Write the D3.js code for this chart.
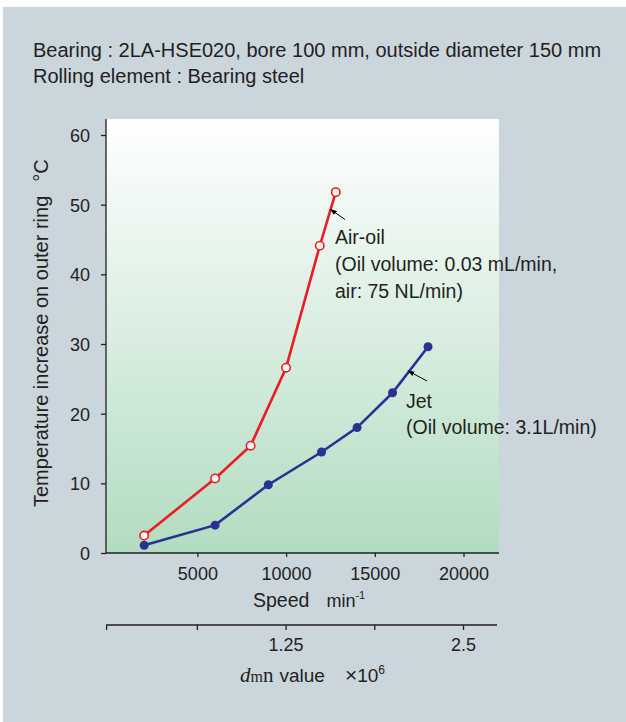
<!DOCTYPE html>
<html><head><meta charset="utf-8">
<script src="https://cdn.jsdelivr.net/npm/d3@7"></script>
<style>
html,body{margin:0;padding:0;background:#fff;}
svg{display:block;}
svg text{font-family:"Liberation Sans",Arial,sans-serif;}
</style></head>
<body>
<script>
// ---- data ----
const airOilSpeed = [2000, 6000, 8000, 10000, 11900, 12800];
const airOilTemp  = [2.5, 10.7, 15.4, 26.6, 44.1, 51.8];
const jetSpeed = [2000, 6000, 9000, 12000, 14000, 16000, 18000];
const jetTemp  = [1.1, 4.0, 9.8, 14.5, 18.0, 23.0, 29.6];
const yTicks = [0, 10, 20, 30, 40, 50, 60];
const xTicks = [5000, 10000, 15000, 20000];
const dmnTickSpeeds = [0, 5000, 10000, 15000, 20000];
const dmnTickLabels = ["", "", "1.25", "", "2.5"];
const titleLines = ["Bearing : 2LA-HSE020, bore 100 mm, outside diameter 150 mm", "Rolling element : Bearing steel"];
const airOilNote = ["Air-oil", "(Oil volume: 0.03 mL/min,", "air: 75 NL/min)"];
const jetNote = ["Jet", "(Oil volume: 3.1L/min)"];

const W = 626, H = 722;
const svg = d3.select("body").append("svg").attr("width", W).attr("height", H);

svg.append("rect").attr("x", 3).attr("y", 7).attr("width", W - 3).attr("height", H - 7).attr("fill", "#cbd5dc");

const plot = {left: 106, right: 499, top: 119, bottom: 553};
const x = d3.scaleLinear().domain([-150, 22000]).range([plot.left, plot.right]);
const y = d3.scaleLinear().domain([0, 60]).range([plot.bottom, 135]);

// gradient
const defs = svg.append("defs");
const grad = defs.append("linearGradient").attr("id", "bg").attr("x1", 0).attr("y1", 0).attr("x2", 0).attr("y2", 1);
grad.append("stop").attr("offset", "0%").attr("stop-color", "#ffffff");
grad.append("stop").attr("offset", "100%").attr("stop-color", "#b2dcc1");
svg.append("rect").attr("x", plot.left).attr("y", plot.top).attr("width", plot.right - plot.left)
  .attr("height", plot.bottom - plot.top).attr("fill", "url(#bg)");

const axisColor = "#231f20";
// title
titleLines.forEach((t, i) => {
  svg.append("text").attr("x", 33).attr("y", 57 + i * 26).attr("font-size", 20).attr("fill", axisColor).text(t);
});

// axes
const yAxis = svg.append("g").attr("transform", `translate(${plot.left},0)`)
  .call(d3.axisLeft(y).tickValues(yTicks).tickSize(5).tickSizeOuter(0).tickPadding(11));
yAxis.select(".domain").attr("d", `M0,${plot.top}V${plot.bottom}`);
const xAxis = svg.append("g").attr("transform", `translate(0,${plot.bottom})`)
  .call(d3.axisBottom(x).tickValues(xTicks).tickFormat(d3.format("d")).tickSize(4).tickSizeOuter(0).tickPadding(8));
xAxis.select(".domain").attr("d", `M${plot.left},0H${plot.right}`);
[yAxis, xAxis].forEach(a => {
  a.attr("font-family", null).attr("font-size", null);
  a.selectAll("path,line").attr("stroke", axisColor).attr("stroke-width", 1.3);
  a.selectAll("text").attr("font-size", 18).attr("fill", axisColor);
});
yAxis.selectAll("text").attr("dy", "0.36em");
xAxis.selectAll("text").attr("dy", "0.85em");

// dmn axis
const dmnY = 625;
const dmn = svg.append("g").attr("transform", `translate(0,${dmnY})`);
dmn.append("path").attr("d", `M${plot.left},0H${plot.right - 2}`).attr("stroke", axisColor).attr("stroke-width", 1.3);
dmnTickSpeeds.forEach((s, i) => {
  const xx = i === 0 ? plot.left + 0.6 : x(s);
  dmn.append("line").attr("x1", xx).attr("x2", xx).attr("y1", 0).attr("y2", 5).attr("stroke", axisColor).attr("stroke-width", 1.3);
  if (dmnTickLabels[i]) dmn.append("text").attr("x", xx).attr("y", 26).attr("text-anchor", "middle")
    .attr("font-size", 18).attr("fill", axisColor).text(dmnTickLabels[i]);
});

// axis titles
const sp = svg.append("text").attr("x", 253).attr("y", 607).attr("font-size", 19.5).attr("fill", axisColor);
sp.append("tspan").text("Speed");
sp.append("tspan").attr("dx", 17).attr("font-size", 18).text("min");
sp.append("tspan").attr("font-size", 11).attr("dy", -8).text("-1");

const dv = svg.append("text").attr("x", 240).attr("y", 682).attr("font-size", 19).attr("fill", axisColor);
dv.append("tspan").attr("font-family", "Liberation Serif, serif").attr("font-style", "italic").attr("font-size", 21).text("d");
dv.append("tspan").attr("font-family", "Liberation Serif, serif").attr("font-size", 16).text("m");
dv.append("tspan").attr("font-family", "Liberation Serif, serif").attr("font-size", 21).text("n");
dv.append("tspan").attr("dx", 6).text("value");
dv.append("tspan").attr("dx", 20).attr("font-size", 21).text("×");
dv.append("tspan").text("10");
dv.append("tspan").attr("font-size", 12).attr("dy", -8).text("6");

const yl = svg.append("text").attr("transform", "translate(48,507) rotate(-90)")
  .attr("font-size", 20).attr("fill", axisColor);
yl.append("tspan").text("Temperature increase on outer ring");
yl.append("tspan").attr("dx", 14).text("°C");

// lines
const red = "#ec1c24", navy = "#2b3192";
const airPts = airOilSpeed.map((s, i) => [s, airOilTemp[i]]);
const jetPts = jetSpeed.map((s, i) => [s, jetTemp[i]]);
const line = d3.line().x(d => x(d[0])).y(d => y(d[1]));
svg.append("path").attr("d", line(jetPts)).attr("fill", "none").attr("stroke", navy).attr("stroke-width", 2.6);
svg.selectAll(".jet").data(jetPts).enter().append("circle").attr("cx", d => x(d[0])).attr("cy", d => y(d[1]))
  .attr("r", 4.5).attr("fill", navy);
svg.append("path").attr("d", line(airPts)).attr("fill", "none").attr("stroke", red).attr("stroke-width", 2.6);
svg.selectAll(".air").data(airPts).enter().append("circle").attr("cx", d => x(d[0])).attr("cy", d => y(d[1]))
  .attr("r", 4.2).attr("fill", "#fff").attr("stroke", red).attr("stroke-width", 1.6);

// annotations
defs.append("marker").attr("id", "ah").attr("viewBox", "0 0 10 10").attr("refX", 1).attr("refY", 5)
  .attr("markerWidth", 7).attr("markerHeight", 7).attr("orient", "auto")
  .append("path").attr("d", "M0,1.5L10,5L0,8.5Z").attr("fill", "#000");
function arrow(x1, y1, x2, y2) {
  svg.append("line").attr("x1", x1).attr("y1", y1).attr("x2", x2).attr("y2", y2)
    .attr("stroke", "#000").attr("stroke-width", 1).attr("marker-end", "url(#ah)");
}
arrow(345, 219.5, 335, 212.5);
arrow(427, 381, 413, 373.5);
airOilNote.forEach((t, i) => svg.append("text").attr("x", 335).attr("y", 244 + i * 27).attr("font-size", 19.5).attr("fill", axisColor).text(t));
jetNote.forEach((t, i) => svg.append("text").attr("x", 406).attr("y", 407.5 + i * 26.5).attr("font-size", 19.5).attr("fill", axisColor).text(t));
</script>
</body></html>
